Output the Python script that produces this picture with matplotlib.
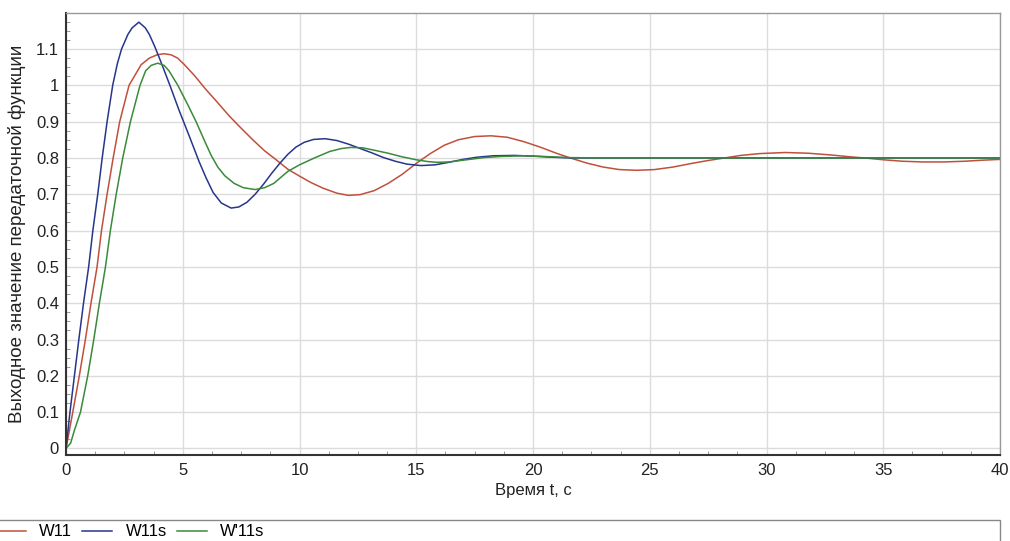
import matplotlib
matplotlib.use('Agg')
import matplotlib.pyplot as plt
from matplotlib.patches import Rectangle
from matplotlib.ticker import MultipleLocator

plt.rcParams['font.family'] = ['Liberation Sans', 'DejaVu Sans']

# W11 (red), values
t_w11 = [0, 0.29, 0.57, 0.83, 1.07, 1.33, 1.52, 1.76, 2.02, 2.3, 2.7, 3.22, 3.57, 3.9,
         4.2, 4.5, 4.78, 5.07, 5.5, 6, 6.5, 7, 7.5, 8, 8.5, 9, 9.5, 10, 10.5, 11, 11.6,
         12.1, 12.6, 13.2, 13.8, 14.4, 15.0, 15.6, 16.2, 16.8, 17.5, 18.2, 18.9, 19.6,
         20.3, 21.0, 21.6, 22.3, 23.0, 23.7, 24.45, 25.2, 26.0, 26.8, 27.5, 28.2, 28.9,
         29.7, 30.8, 31.8, 32.8, 33.6, 34.2, 35.0, 35.8, 36.7, 37.6, 38.5, 39.3, 40]
v_w11 = [0, 0.1, 0.2, 0.3, 0.4, 0.5, 0.6, 0.7, 0.8, 0.9, 1.0, 1.057, 1.075, 1.084,
         1.087, 1.084, 1.075, 1.057, 1.027, 0.988, 0.952, 0.915, 0.882, 0.85, 0.82, 0.795,
         0.769, 0.75, 0.732, 0.717, 0.703, 0.697, 0.699, 0.71, 0.73, 0.755, 0.785, 0.812,
         0.835, 0.85, 0.859, 0.861, 0.857, 0.845, 0.83, 0.813, 0.8, 0.786, 0.775, 0.768,
         0.766, 0.768, 0.775, 0.785, 0.793, 0.8, 0.807, 0.812, 0.815, 0.813, 0.808, 0.803,
         0.8, 0.795, 0.791, 0.789, 0.789, 0.791, 0.794, 0.796]

# W11s (blue)
t_w11s = [0, 0.17, 0.36, 0.55, 0.75, 0.97, 1.15, 1.36, 1.55, 1.76, 2.0, 2.2, 2.38, 2.65,
          2.83, 3.12, 3.4, 3.57, 3.8, 4.0, 4.2, 4.45, 4.85, 5.25, 5.7, 6.0, 6.3, 6.65,
          7.07, 7.4, 7.75, 8.1, 8.45, 8.8, 9.14, 9.5, 9.85, 10.2, 10.6, 11.1, 11.6, 12.1,
          12.6, 13.1, 13.6, 14.1, 14.6, 15.2, 15.8, 16.4, 17.0, 17.6, 18.3, 19.2, 20.0,
          20.8, 21.6, 25, 30, 35, 40]
v_w11s = [0, 0.1, 0.2, 0.3, 0.4, 0.5, 0.6, 0.7, 0.8, 0.9, 1.0, 1.06, 1.1, 1.14,
          1.158, 1.174, 1.158, 1.14, 1.107, 1.075, 1.042, 1.0, 0.93, 0.865, 0.79, 0.745,
          0.705, 0.676, 0.662, 0.665, 0.678, 0.7, 0.727, 0.757, 0.784, 0.81, 0.83, 0.843,
          0.851, 0.853, 0.848, 0.838, 0.826, 0.814, 0.801, 0.791, 0.783, 0.779, 0.781,
          0.788, 0.796, 0.802, 0.806, 0.807, 0.805, 0.802, 0.8, 0.8, 0.8, 0.8, 0.8]

# W'11s (green)
t_w11s2 = [0, 0.2, 0.36, 0.62, 0.93, 1.19, 1.43, 1.69, 1.9, 2.15, 2.43, 2.76, 3.17, 3.41,
           3.65, 3.93, 4.2, 4.41, 4.79, 5.22, 5.57, 5.9, 6.21, 6.5, 6.8, 7.2, 7.6, 8.1,
           8.5, 8.9, 9.5, 10.0, 10.64, 11.3, 11.8, 12.2, 12.7, 13.3, 13.8, 14.4, 15.0,
           15.5, 15.9, 16.4, 16.9, 17.4, 17.9, 18.6, 19.6, 20.5, 21.5, 23, 26, 30, 35, 40]
v_w11s2 = [0, 0.015, 0.05, 0.1, 0.2, 0.3, 0.4, 0.5, 0.6, 0.7, 0.8, 0.9, 1.0, 1.04,
           1.055, 1.061, 1.055, 1.04, 1.0, 0.946, 0.9, 0.852, 0.808, 0.775, 0.751, 0.73,
           0.718, 0.713, 0.718, 0.73, 0.763, 0.781, 0.8, 0.818, 0.826, 0.829, 0.828, 0.82,
           0.813, 0.803, 0.795, 0.79, 0.788, 0.789, 0.793, 0.797, 0.801, 0.804, 0.806,
           0.804, 0.801, 0.8, 0.8, 0.8, 0.8, 0.8]

x_ticks = [0, 5, 10, 15, 20, 25, 30, 35, 40]
y_ticks = [0, 0.1, 0.2, 0.3, 0.4, 0.5, 0.6, 0.7, 0.8, 0.9, 1, 1.1]
y_tick_labels = ['0', '0.1', '0.2', '0.3', '0.4', '0.5', '0.6', '0.7', '0.8', '0.9', '1', '1.1']

fig = plt.figure(figsize=(10.1, 5.41), dpi=100)
ax = fig.add_axes([66 / 1010, 1 - 455 / 541, 934 / 1010, (455 - 12.7) / 541])

ax.plot(t_w11, v_w11, color='#c0503c', lw=1.1, label='W11')
ax.plot(t_w11s, v_w11s, color='#27368a', lw=1.1, label='W11s')
ax.plot(t_w11s2, v_w11s2, color='#3a8a3a', lw=1.1, label="W'11s")

ax.set_xlim(0, 40)
ax.set_ylim(-0.018, 1.2)
ax.set_xticks(x_ticks)
ax.set_xticklabels([str(x) for x in x_ticks])
ax.set_yticks(y_ticks)
ax.set_yticklabels(y_tick_labels)
ax.xaxis.set_minor_locator(MultipleLocator(1.25))
ax.yaxis.set_minor_locator(MultipleLocator(0.025))
ax.tick_params(which='major', length=0, labelsize=12, colors='#222222')
ax.tick_params(axis='y', which='major', pad=5)
ax.tick_params(axis='x', which='major', pad=6)
ax.tick_params(which='minor', direction='in', length=3, color='#888888')
ax.grid(True, which='major', color='#dcdcdc', lw=1)
ax.set_axisbelow(True)

for s in ['top', 'right']:
    ax.spines[s].set_color('#999999')
    ax.spines[s].set_linewidth(1)
for s in ['left', 'bottom']:
    ax.spines[s].set_color('#333333')
    ax.spines[s].set_linewidth(1.5)

ax.set_xlabel('Время t, с', fontsize=12, color='#222222')
ax.xaxis.set_label_coords(0.5, -0.063)
ax.set_ylabel('Выходное значение передаточной функции', fontsize=13.5, color='#222222')
ax.yaxis.set_label_coords(-0.043, 0.5)

# legend strip at the bottom
fig.patches.append(Rectangle((-5 / 1010, -0.05), 1005 / 1010, 1 - 520 / 541 + 0.05,
                             transform=fig.transFigure, fill=False,
                             edgecolor='#888888', lw=1))
fig.legend(loc='center left', bbox_to_anchor=(-4 / 1010, 1 - 532 / 541), ncol=3,
           frameon=False, fontsize=12, handlelength=1.8, handletextpad=0.8,
           columnspacing=0.6, borderaxespad=0, borderpad=0)

fig.savefig('out.png', dpi=100)
